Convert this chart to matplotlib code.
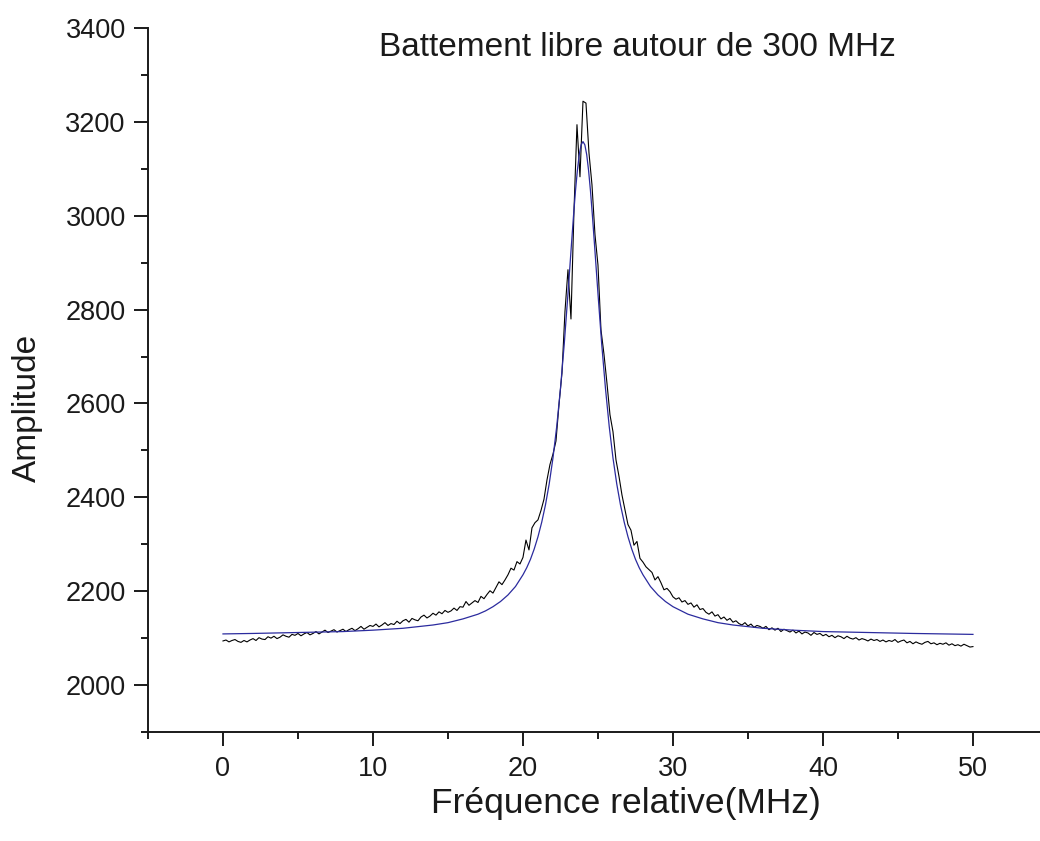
#!/usr/bin/env python3
# -*- coding: utf-8 -*-

import matplotlib
matplotlib.use('Agg')
import matplotlib.pyplot as plt
import numpy as np
from matplotlib.ticker import MultipleLocator

plt.rcParams['font.family'] = ['Liberation Sans', 'DejaVu Sans']

# signal mesure (pas de 0.2 MHz de 0 a 50 MHz)
freq = np.linspace(0, 50, 251)
amplitude = [
    2094, 2096, 2092, 2095, 2097, 2093, 2091, 2095, 2092, 2096,
    2099, 2095, 2101, 2098, 2097, 2103, 2100, 2104, 2099, 2102,
    2107, 2104, 2102, 2108, 2106, 2110, 2105, 2109, 2112, 2107,
    2110, 2114, 2109, 2113, 2117, 2112, 2115, 2118, 2113, 2116,
    2119, 2114, 2118, 2121, 2116, 2120, 2125, 2119, 2123, 2127,
    2125, 2130, 2124, 2128, 2133, 2127, 2131, 2129, 2136, 2131,
    2137, 2140, 2134, 2142, 2139, 2137, 2145, 2149, 2143, 2147,
    2153, 2149, 2156, 2152, 2159, 2155, 2158, 2164, 2159, 2167,
    2166, 2178, 2170, 2175, 2180, 2176, 2189, 2184, 2193, 2201,
    2196, 2208, 2220, 2214, 2224, 2235, 2249, 2245, 2263, 2258,
    2272, 2309, 2288, 2335, 2346, 2352, 2372, 2396, 2437, 2470,
    2492, 2520, 2597, 2665, 2796, 2885, 2780, 3010, 3194, 3083,
    3244, 3240, 3134, 3066, 2960, 2895, 2757, 2705, 2643, 2576,
    2540, 2480, 2445, 2405, 2373, 2342, 2330, 2298, 2306, 2270,
    2262, 2252, 2246, 2240, 2224, 2231, 2218, 2203, 2206, 2199,
    2188, 2183, 2186, 2177, 2180, 2172, 2175, 2166, 2171, 2161,
    2163, 2155, 2151, 2156, 2147, 2150, 2141, 2145, 2138, 2142,
    2134, 2137, 2131, 2128, 2133, 2126, 2130, 2123, 2127, 2125,
    2121, 2125, 2118, 2122, 2117, 2121, 2114, 2119, 2116, 2113,
    2117, 2111, 2115, 2109, 2113, 2111, 2106, 2112, 2108, 2110,
    2105, 2108, 2103, 2106, 2101, 2105, 2103, 2099, 2104, 2100,
    2098, 2101, 2096, 2099, 2097, 2094, 2098, 2095, 2097, 2093,
    2096, 2092, 2095, 2093, 2097, 2091, 2094, 2096, 2090, 2093,
    2088, 2092, 2089, 2087, 2091, 2093, 2088, 2090, 2086, 2089,
    2087, 2090, 2085, 2088, 2084, 2086, 2083, 2087, 2084, 2081,
    2082,
]

# courbe d'ajustement (lorentzienne), points releves
fit_freq = [0, 2, 5, 8, 10, 12, 14, 15, 16, 17, 17.5, 18, 18.5, 19, 19.5,
            20, 20.25, 20.5, 20.75, 21, 21.25, 21.5, 21.75, 22, 22.25, 22.5,
            22.75, 23, 23.25, 23.375, 23.5, 23.625, 23.75, 23.875, 24,
            24.125, 24.25, 24.375, 24.5, 24.625, 24.75, 25, 25.25, 25.5,
            25.75, 26, 26.25, 26.5, 26.75, 27, 27.25, 27.5, 27.75, 28, 28.5,
            29, 29.5, 30, 31, 32, 33, 34, 36, 38, 40, 43, 46, 50]
fit_amp = [2109, 2110, 2112, 2114, 2117, 2121, 2128, 2133, 2141, 2151, 2158,
           2167, 2178, 2192, 2210, 2235, 2250, 2268, 2290, 2316, 2347, 2384,
           2429, 2484, 2551, 2632, 2726, 2834, 2947, 3002, 3053, 3096, 3130,
           3151, 3158, 3151, 3130, 3096, 3053, 3002, 2947, 2834, 2726, 2632,
           2551, 2484, 2429, 2384, 2347, 2316, 2290, 2268, 2250, 2235, 2210,
           2192, 2178, 2167, 2151, 2141, 2133, 2128, 2121, 2117, 2114, 2112,
           2110, 2108]

fig = plt.figure(figsize=(10.4, 8.41), dpi=100)
ax = fig.add_axes([0.1423, 0.1296, 0.8577, 0.8371])

ax.plot(freq, amplitude, color='black', lw=0.8)
ax.plot(fit_freq, fit_amp, color='#2b2b9e', lw=0.9)

ax.set_xlim(-5, 54.47)
ax.set_ylim(1900, 3400)

ax.spines['top'].set_visible(False)
ax.spines['right'].set_visible(False)
for s in ['left', 'bottom']:
    ax.spines[s].set_linewidth(1.4)
    ax.spines[s].set_color('#1a1a1a')

ax.xaxis.set_major_locator(MultipleLocator(10))
ax.xaxis.set_minor_locator(MultipleLocator(5))
ax.yaxis.set_major_locator(MultipleLocator(200))
ax.yaxis.set_minor_locator(MultipleLocator(100))
ax.tick_params(which='major', direction='out', length=10, width=1.4,
               labelsize=19.5, pad=6, colors='#1a1a1a')
ax.tick_params(which='minor', direction='out', length=5, width=1.4,
               colors='#1a1a1a')
ax.tick_params(axis='x', which='major', pad=7)

fig.text(637 / 1040, 1 - 47 / 841, 'Battement libre autour de 300 MHz',
         fontsize=24, ha='center', va='center', color='#1a1a1a')
fig.text(0.5 * (415 + 836) / 1040, 1 - 803 / 841, 'Fréquence relative(MHz)',
         fontsize=25.5, ha='center', va='center', color='#1a1a1a')
fig.text(27 / 1040, 1 - 408 / 841, 'Amplitude', fontsize=24, rotation=90,
         ha='center', va='center', color='#1a1a1a')

plt.savefig('out.png', dpi=100)
plt.close()
